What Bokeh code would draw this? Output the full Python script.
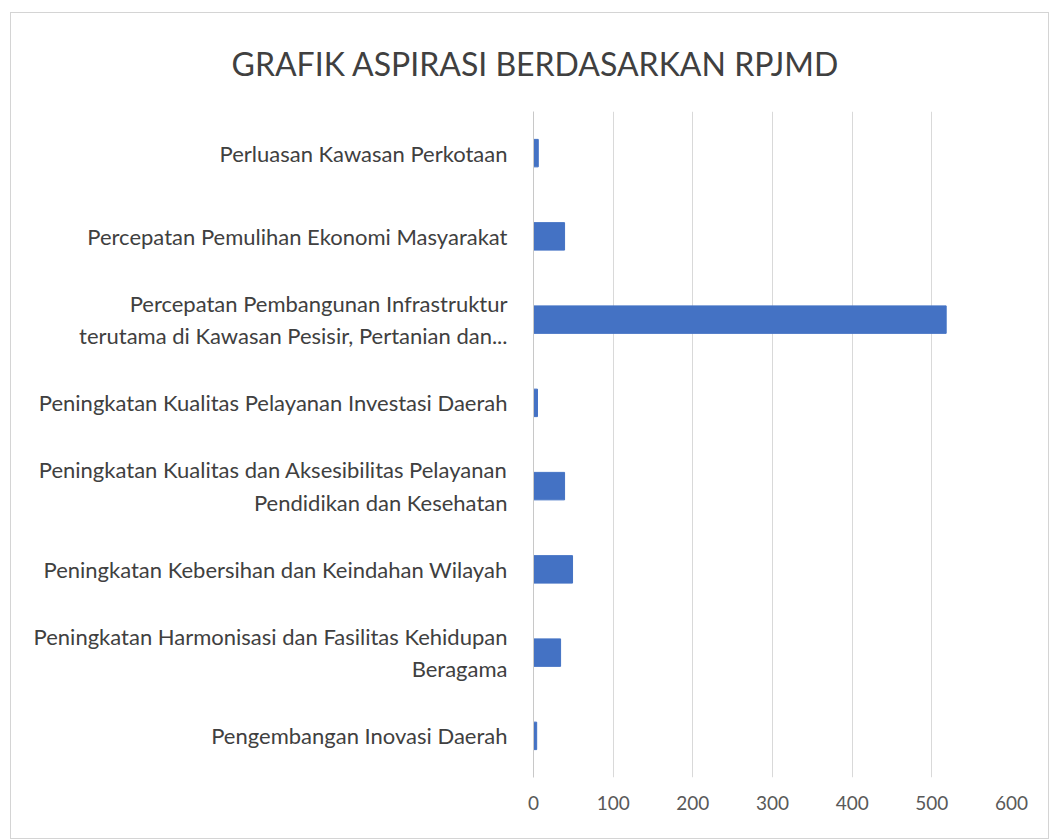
from bokeh.plotting import figure
from bokeh.models import Range1d, FactorRange, Title, ColumnDataSource, FixedTicker
from bokeh.embed import file_html
from bokeh.resources import INLINE

categories = [
    "Perluasan Kawasan Perkotaan",
    "Percepatan Pemulihan Ekonomi Masyarakat",
    "Percepatan Pembangunan Infrastruktur\nterutama di Kawasan Pesisir, Pertanian dan...",
    "Peningkatan Kualitas Pelayanan Investasi Daerah",
    "Peningkatan Kualitas dan Aksesibilitas Pelayanan\nPendidikan dan Kesehatan",
    "Peningkatan Kebersihan dan Keindahan Wilayah",
    "Peningkatan Harmonisasi dan Fasilitas Kehidupan\nBeragama",
    "Pengembangan Inovasi Daerah",
]
values = [6, 39, 518, 5, 39, 49, 34, 4]
x_ticks = [0, 100, 200, 300, 400, 500, 600]
title_text = "GRAFIK ASPIRASI BERDASARKAN RPJMD"

FONT = "Lato"

src = ColumnDataSource(dict(cat=categories, val=values))

p = figure(width=1039, height=827, output_backend="svg", toolbar_location=None,
           y_range=FactorRange(*reversed(categories)), x_range=Range1d(0, 600),
           min_border_left=522, min_border_right=39, min_border_top=98, min_border_bottom=63)
p.styles = {"margin-left": "10px", "margin-top": "12px", "border": "1px solid #d4d4d4"}

p.add_layout(Title(text=title_text, align="left", offset=-302, text_font=FONT,
                   text_font_size="32px", text_font_style="normal", text_color="#404040",
                   standoff=57), "above")

p.hbar(y="cat", right="val", left=0, height=0.33, source=src, color="#4472C4")

p.xaxis.ticker = FixedTicker(ticks=x_ticks)
p.xaxis.axis_line_color = None
p.xaxis.major_tick_line_color = None
p.xaxis.minor_tick_line_color = None
p.xaxis.major_label_text_font = FONT
p.xaxis.major_label_text_font_size = "19px"
p.xaxis.major_label_text_color = "#595959"
p.xaxis.major_label_standoff = 12

p.yaxis.axis_line_color = "#c8c8c8"
p.yaxis.major_tick_line_color = None
p.yaxis.minor_tick_line_color = None
p.yaxis.major_label_text_font = FONT
p.yaxis.major_label_text_font_size = "22px"
p.yaxis.major_label_text_color = "#404040"
p.yaxis.major_label_standoff = 20
p.yaxis.major_label_text_align = "center"

p.ygrid.grid_line_color = None
p.xgrid.grid_line_color = "#d9d9d9"
p.outline_line_color = None

open("out.html", "w").write(file_html(p, INLINE))
